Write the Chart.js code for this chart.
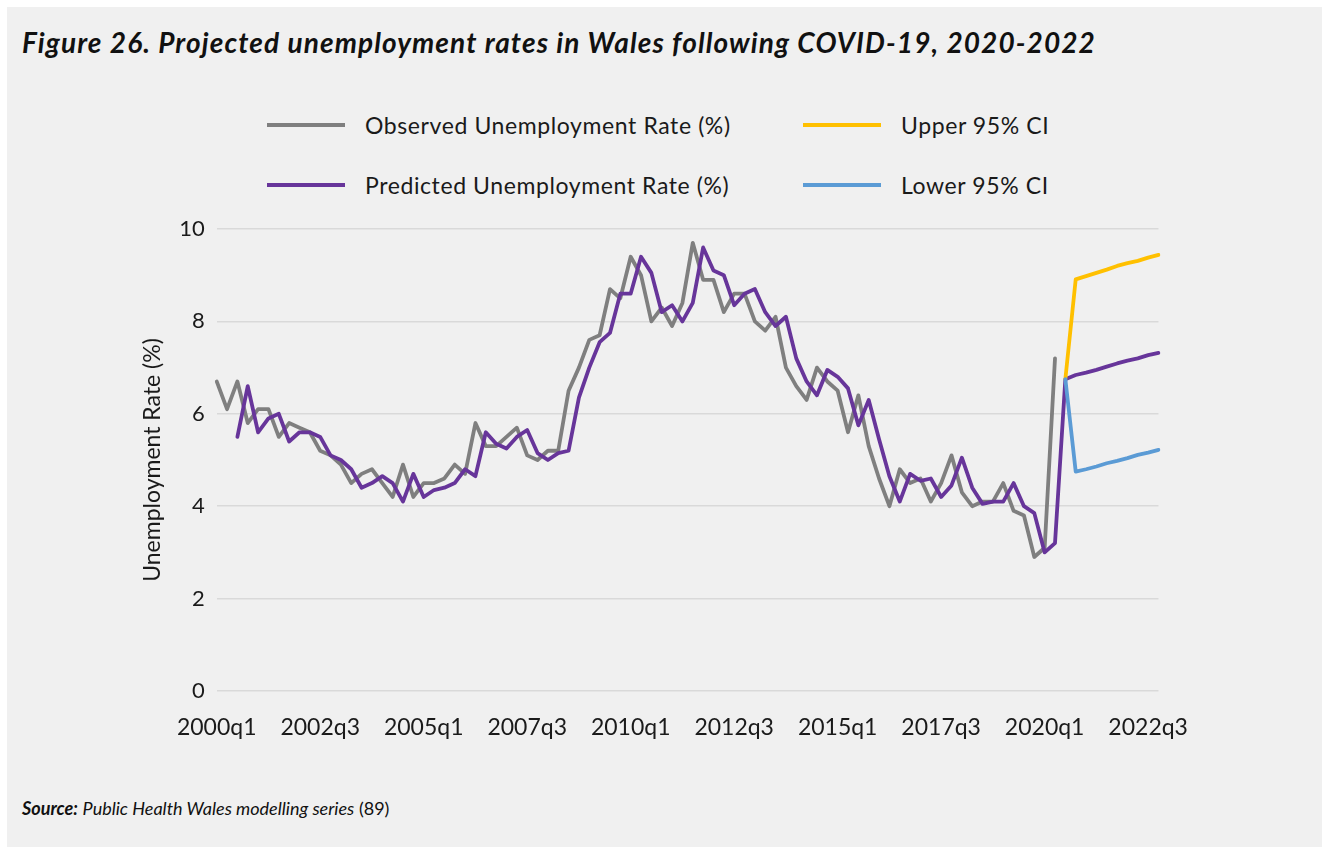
<!DOCTYPE html>
<html>
<head>
<meta charset="utf-8">
<script src="https://cdn.jsdelivr.net/npm/chart.js@4.4.0/dist/chart.umd.min.js"></script>
<style>
  body { margin: 0; background: #fff; font-family: Lato, "Open Sans", sans-serif; }
  #panel { position: absolute; left: 7px; top: 7px; right: 0; bottom: 0; background: #f0f0f0; }
  #title { position: absolute; left: 22px; top: 25px; font-size: 28px; line-height: 34px; letter-spacing: 1.1px; font-weight: bold; font-style: italic; color: #111; white-space: nowrap; }
  .lg-line { position: absolute; width: 78px; height: 4px; }
  .lg-text { position: absolute; font-size: 23px; line-height: 26px; letter-spacing: 0.6px; color: #1a1a1a; white-space: nowrap; }
  #source { position: absolute; left: 22px; top: 797px; font-size: 18px; line-height: 22px; color: #111; white-space: nowrap; }
  #chart { position: absolute; left: 0; top: 0; }
</style>
</head>
<body>
<div id="panel"></div>
<div id="title">Figure 26. Projected unemployment rates in Wales following COVID-19, 2020-2022</div>
<div id="legend"></div>
<div id="source"><b><i>Source:</i></b> <i>Public Health Wales modelling series</i> (89)</div>
<canvas id="chart" width="1322" height="847"></canvas>
<script>
// quarters 2000q1 .. 2022q4
var quarters = [];
for (var y = 2000; y <= 2022; y++) {
    for (var q = 1; q <= 4; q++) quarters.push(y + 'q' + q);
}
var tickLabels = ['2000q1', '2002q3', '2005q1', '2007q3', '2010q1', '2012q3', '2015q1', '2017q3', '2020q1', '2022q3'];

var observed = [
    6.7, 6.1, 6.7, 5.8, 6.1, 6.1, 5.5, 5.8, 5.7, 5.6,
    5.2, 5.1, 4.9, 4.5, 4.7, 4.8, 4.5, 4.2, 4.9, 4.2,
    4.5, 4.5, 4.6, 4.9, 4.7, 5.8, 5.3, 5.3, 5.5, 5.7,
    5.1, 5.0, 5.2, 5.2, 6.5, 7.0, 7.6, 7.7, 8.7, 8.5,
    9.4, 9.0, 8.0, 8.3, 7.9, 8.4, 9.7, 8.9, 8.9, 8.2,
    8.6, 8.6, 8.0, 7.8, 8.1, 7.0, 6.6, 6.3, 7.0, 6.7,
    6.5, 5.6, 6.4, 5.3, 4.6, 4.0, 4.8, 4.5, 4.6, 4.1,
    4.5, 5.1, 4.3, 4.0, 4.1, 4.1, 4.5, 3.9, 3.8, 2.9,
    3.1, 7.2, null, null, null, null, null, null, null, null,
    null, null
];
var predicted = [
    null, null, 5.5, 6.6, 5.6, 5.9, 6.0, 5.4, 5.6, 5.6,
    5.5, 5.1, 5.0, 4.8, 4.4, 4.5, 4.65, 4.5, 4.1, 4.7,
    4.2, 4.35, 4.4, 4.5, 4.8, 4.65, 5.6, 5.35, 5.25, 5.5,
    5.65, 5.15, 5.0, 5.15, 5.2, 6.35, 7.0, 7.55, 7.75, 8.6,
    8.6, 9.4, 9.05, 8.2, 8.35, 8.0, 8.4, 9.6, 9.1, 9.0,
    8.35, 8.6, 8.7, 8.2, 7.9, 8.1, 7.2, 6.7, 6.4, 6.95,
    6.8, 6.55, 5.75, 6.3, 5.45, 4.65, 4.1, 4.7, 4.55, 4.6,
    4.2, 4.45, 5.05, 4.4, 4.05, 4.1, 4.1, 4.5, 4.0, 3.85,
    3.0, 3.2, 6.75, 6.84, 6.89, 6.95, 7.02, 7.09, 7.15, 7.2,
    7.27, 7.32
];
// confidence bands start at 2020q3 (index 82)
var upperCI = [6.75, 8.91, 8.98, 9.05, 9.12, 9.2, 9.26, 9.31, 9.38, 9.44];
var lowerCI = [6.75, 4.75, 4.8, 4.86, 4.93, 4.98, 5.04, 5.11, 5.16, 5.22];

function padFront(arr) {
    var out = [];
    for (var i = 0; i < quarters.length - arr.length; i++) out.push(null);
    return out.concat(arr);
}

var seriesInfo = [
    { label: 'Observed Unemployment Rate (%)', data: observed, color: '#7f7f7f', order: 4, lx: 267, ly: 125 },
    { label: 'Predicted Unemployment Rate (%)', data: predicted, color: '#67359a', order: 3, lx: 267, ly: 185 },
    { label: 'Upper 95% CI', data: padFront(upperCI), color: '#ffc000', order: 2, lx: 803, ly: 125 },
    { label: 'Lower 95% CI', data: padFront(lowerCI), color: '#5b9bd5', order: 1, lx: 803, ly: 185 }
];

// html legend
var legendBox = document.getElementById('legend');
seriesInfo.forEach(function (s) {
    var line = document.createElement('div');
    line.className = 'lg-line';
    line.style.left = s.lx + 'px';
    line.style.top = (s.ly - 2) + 'px';
    line.style.background = s.color;
    legendBox.appendChild(line);
    var txt = document.createElement('div');
    txt.className = 'lg-text';
    txt.style.left = (s.lx + 98) + 'px';
    txt.style.top = (s.ly - 13) + 'px';
    txt.textContent = s.label;
    legendBox.appendChild(txt);
});

Chart.defaults.font.family = 'Lato, "Open Sans", sans-serif';
Chart.defaults.color = '#1a1a1a';

var ctx = document.getElementById('chart').getContext('2d');
var myChart = new Chart(ctx, {
    type: 'line',
    data: {
        labels: quarters,
        datasets: seriesInfo.map(function (s) {
            return {
                label: s.label,
                data: s.data,
                borderColor: s.color,
                backgroundColor: s.color,
                borderWidth: 3.8,
                pointRadius: 0,
                tension: 0,
                order: s.order,
                borderJoinStyle: 'round',
                borderCapStyle: 'round'
            };
        })
    },
    options: {
        responsive: false,
        animation: false,
        devicePixelRatio: 1,
        layout: { padding: { top: 229, left: 0, right: 163.5, bottom: 106 } },
        plugins: {
            legend: { display: false },
            tooltip: { enabled: false }
        },
        scales: {
            x: {
                offset: false,
                grid: { display: false },
                border: { display: false },
                ticks: {
                    autoSkip: false,
                    maxRotation: 0,
                    padding: 15,
                    font: { size: 23 },
                    callback: function (val, idx) {
                        var l = quarters[idx];
                        return tickLabels.indexOf(l) >= 0 ? l : null;
                    }
                },
                afterFit: function (s) { s.height = 50; }
            },
            y: {
                min: 0,
                max: 10,
                grid: { color: '#d9d9d9', lineWidth: 1.5, drawTicks: false },
                border: { display: false },
                ticks: { stepSize: 2, padding: 12, font: { size: 22 } },
                title: {
                    display: true,
                    text: 'Unemployment Rate (%)',
                    font: { size: 23 },
                    padding: { top: 139 }
                },
                afterFit: function (s) { s.width = 216.7; }
            }
        }
    }
});
</script>
</body>
</html>
